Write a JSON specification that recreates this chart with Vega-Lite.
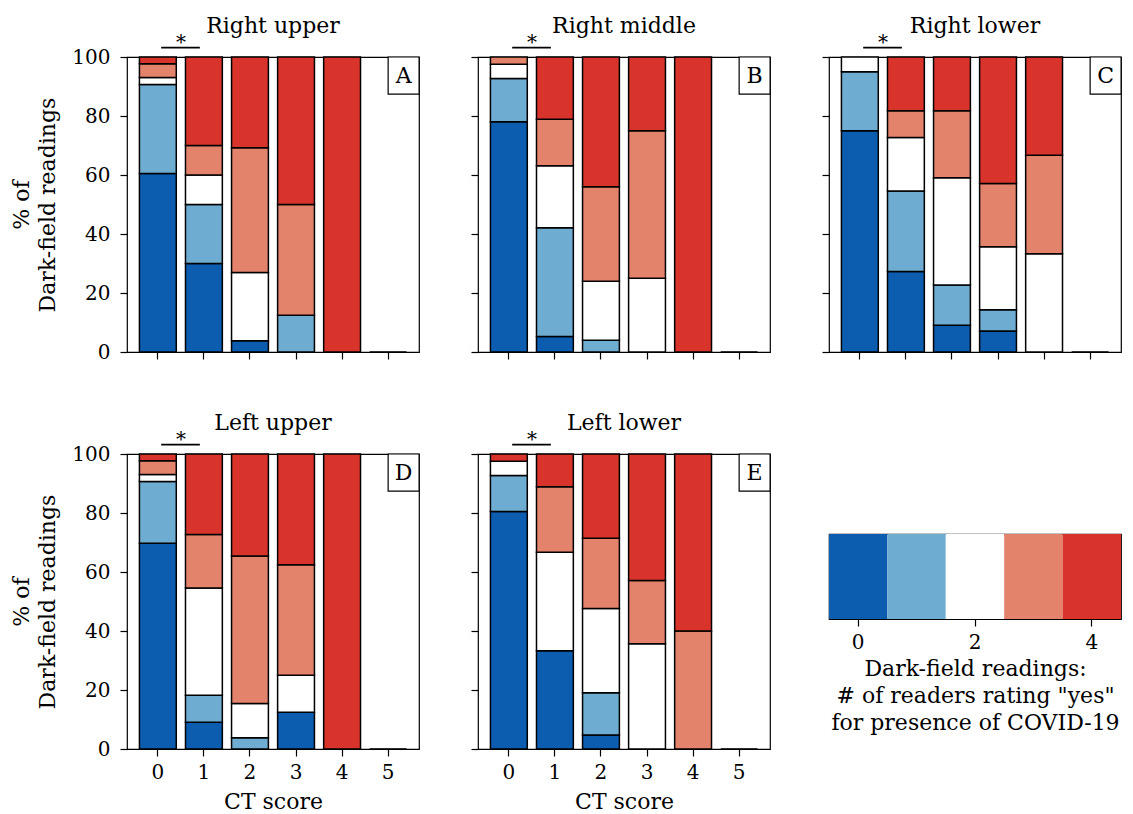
{
  "$schema": "https://vega.github.io/schema/vega-lite/v6.json",
  "background": "white",
  "padding": {"left": 10, "top": 14, "right": 5, "bottom": 5},
  "datasets": {
    "bars": [
      {"p":"A","ct":0,"lv":0,"v":60.47},{"p":"A","ct":0,"lv":1,"v":30.23},{"p":"A","ct":0,"lv":2,"v":2.33},{"p":"A","ct":0,"lv":3,"v":4.65},{"p":"A","ct":0,"lv":4,"v":2.33},
      {"p":"A","ct":1,"lv":0,"v":30},{"p":"A","ct":1,"lv":1,"v":20},{"p":"A","ct":1,"lv":2,"v":10},{"p":"A","ct":1,"lv":3,"v":10},{"p":"A","ct":1,"lv":4,"v":30},
      {"p":"A","ct":2,"lv":0,"v":3.85},{"p":"A","ct":2,"lv":2,"v":23.08},{"p":"A","ct":2,"lv":3,"v":42.31},{"p":"A","ct":2,"lv":4,"v":30.77},
      {"p":"A","ct":3,"lv":1,"v":12.5},{"p":"A","ct":3,"lv":3,"v":37.5},{"p":"A","ct":3,"lv":4,"v":50},
      {"p":"A","ct":4,"lv":4,"v":100},
      {"p":"A","ct":5,"lv":0,"v":0},
      {"p":"B","ct":0,"lv":0,"v":78.05},{"p":"B","ct":0,"lv":1,"v":14.63},{"p":"B","ct":0,"lv":2,"v":4.88},{"p":"B","ct":0,"lv":3,"v":2.44},
      {"p":"B","ct":1,"lv":0,"v":5.26},{"p":"B","ct":1,"lv":1,"v":36.84},{"p":"B","ct":1,"lv":2,"v":21.05},{"p":"B","ct":1,"lv":3,"v":15.79},{"p":"B","ct":1,"lv":4,"v":21.05},
      {"p":"B","ct":2,"lv":1,"v":4},{"p":"B","ct":2,"lv":2,"v":20},{"p":"B","ct":2,"lv":3,"v":32},{"p":"B","ct":2,"lv":4,"v":44},
      {"p":"B","ct":3,"lv":2,"v":25},{"p":"B","ct":3,"lv":3,"v":50},{"p":"B","ct":3,"lv":4,"v":25},
      {"p":"B","ct":4,"lv":4,"v":100},
      {"p":"B","ct":5,"lv":0,"v":0},
      {"p":"C","ct":0,"lv":0,"v":75},{"p":"C","ct":0,"lv":1,"v":20},{"p":"C","ct":0,"lv":2,"v":5},
      {"p":"C","ct":1,"lv":0,"v":27.27},{"p":"C","ct":1,"lv":1,"v":27.27},{"p":"C","ct":1,"lv":2,"v":18.18},{"p":"C","ct":1,"lv":3,"v":9.09},{"p":"C","ct":1,"lv":4,"v":18.18},
      {"p":"C","ct":2,"lv":0,"v":9.09},{"p":"C","ct":2,"lv":1,"v":13.64},{"p":"C","ct":2,"lv":2,"v":36.36},{"p":"C","ct":2,"lv":3,"v":22.73},{"p":"C","ct":2,"lv":4,"v":18.18},
      {"p":"C","ct":3,"lv":0,"v":7.14},{"p":"C","ct":3,"lv":1,"v":7.14},{"p":"C","ct":3,"lv":2,"v":21.43},{"p":"C","ct":3,"lv":3,"v":21.43},{"p":"C","ct":3,"lv":4,"v":42.86},
      {"p":"C","ct":4,"lv":2,"v":33.33},{"p":"C","ct":4,"lv":3,"v":33.33},{"p":"C","ct":4,"lv":4,"v":33.34},
      {"p":"C","ct":5,"lv":0,"v":0},
      {"p":"D","ct":0,"lv":0,"v":69.77},{"p":"D","ct":0,"lv":1,"v":20.93},{"p":"D","ct":0,"lv":2,"v":2.33},{"p":"D","ct":0,"lv":3,"v":4.65},{"p":"D","ct":0,"lv":4,"v":2.33},
      {"p":"D","ct":1,"lv":0,"v":9.09},{"p":"D","ct":1,"lv":1,"v":9.09},{"p":"D","ct":1,"lv":2,"v":36.36},{"p":"D","ct":1,"lv":3,"v":18.18},{"p":"D","ct":1,"lv":4,"v":27.27},
      {"p":"D","ct":2,"lv":1,"v":3.85},{"p":"D","ct":2,"lv":2,"v":11.54},{"p":"D","ct":2,"lv":3,"v":50},{"p":"D","ct":2,"lv":4,"v":34.62},
      {"p":"D","ct":3,"lv":0,"v":12.5},{"p":"D","ct":3,"lv":2,"v":12.5},{"p":"D","ct":3,"lv":3,"v":37.5},{"p":"D","ct":3,"lv":4,"v":37.5},
      {"p":"D","ct":4,"lv":4,"v":100},
      {"p":"D","ct":5,"lv":0,"v":0},
      {"p":"E","ct":0,"lv":0,"v":80.49},{"p":"E","ct":0,"lv":1,"v":12.2},{"p":"E","ct":0,"lv":2,"v":4.88},{"p":"E","ct":0,"lv":4,"v":2.44},
      {"p":"E","ct":1,"lv":0,"v":33.33},{"p":"E","ct":1,"lv":2,"v":33.33},{"p":"E","ct":1,"lv":3,"v":22.22},{"p":"E","ct":1,"lv":4,"v":11.11},
      {"p":"E","ct":2,"lv":0,"v":4.76},{"p":"E","ct":2,"lv":1,"v":14.29},{"p":"E","ct":2,"lv":2,"v":28.57},{"p":"E","ct":2,"lv":3,"v":23.81},{"p":"E","ct":2,"lv":4,"v":28.57},
      {"p":"E","ct":3,"lv":2,"v":35.71},{"p":"E","ct":3,"lv":3,"v":21.43},{"p":"E","ct":3,"lv":4,"v":42.86},
      {"p":"E","ct":4,"lv":3,"v":40},{"p":"E","ct":4,"lv":4,"v":60},
      {"p":"E","ct":5,"lv":0,"v":0}
    ],
    "legend": [{"lv":0},{"lv":1},{"lv":2},{"lv":3},{"lv":4}]
  },
  "columns": 3,
  "bounds": "flush",
  "spacing": {"row": 102, "column": 59},
  "concat": [
    {
      "width": 292, "height": 295,
      "layer": [
        {"data": {"name": "bars"}, "transform": [{"filter": "datum.p === 'A'"}],
         "mark": {"type": "bar", "stroke": "black", "strokeWidth": 1.5},
         "encoding": {
           "x": {"field": "ct", "type": "ordinal", "scale": {"type": "band", "paddingInner": 0.2, "paddingOuter": 0.27}, "axis": {"labels": false, "title": null}},
           "y": {"field": "v", "type": "quantitative", "stack": "zero", "scale": {"domain": [0, 100], "nice": false}, "axis": {"values": [0, 20, 40, 60, 80, 100], "title": ["% of", "Dark-field readings"], "titlePadding": 12, "labelPadding": 10, "titleLineHeight": 26}},
           "color": {"field": "lv", "type": "ordinal", "scale": {"domain": [0, 1, 2, 3, 4], "range": ["#0c5cb0", "#6eadd1", "#ffffff", "#e4836c", "#d9342b"]}, "legend": null},
           "order": {"field": "lv", "type": "quantitative", "sort": "ascending"}
         }},
        {"data": {"values": [{"t": "Right upper"}]}, "mark": {"type": "text", "fontSize": 22, "baseline": "alphabetic", "align": "center"},
         "encoding": {"text": {"field": "t"}, "x": {"datum": 2, "type": "ordinal", "bandPosition": 1.125}, "y": {"datum": 108.1, "type": "quantitative"}}},
        {"data": {"values": [{}]}, "mark": {"type": "rule", "strokeWidth": 1.8, "color": "black"},
         "encoding": {"x": {"datum": 0, "type": "ordinal", "bandPosition": 0.59}, "x2": {"datum": 1, "bandPosition": 0.39}, "y": {"datum": 103.2, "type": "quantitative"}}},
        {"data": {"values": [{}]}, "mark": {"type": "text", "text": "*", "fontSize": 20, "baseline": "alphabetic"},
         "encoding": {"x": {"datum": 0, "type": "ordinal", "bandPosition": 1.125}, "y": {"datum": 102.6, "type": "quantitative"}}},
        {"data": {"values": [{}]}, "mark": {"type": "rect", "fill": "white", "stroke": "black", "strokeWidth": 1.2},
         "encoding": {"x": {"datum": 5, "type": "ordinal", "bandPosition": 0.5}, "x2": {"datum": 5, "bandPosition": 1.34}, "y": {"datum": 100, "type": "quantitative"}, "y2": {"datum": 87.4}}},
        {"data": {"values": [{"t": "A"}]}, "mark": {"type": "text", "fontSize": 22, "baseline": "middle"},
         "encoding": {"text": {"field": "t"}, "x": {"datum": 5, "type": "ordinal", "bandPosition": 0.92}, "y": {"datum": 93.7, "type": "quantitative"}}}
      ]
    },
    {
      "width": 292, "height": 295,
      "layer": [
        {"data": {"name": "bars"}, "transform": [{"filter": "datum.p === 'B'"}],
         "mark": {"type": "bar", "stroke": "black", "strokeWidth": 1.5},
         "encoding": {
           "x": {"field": "ct", "type": "ordinal", "scale": {"type": "band", "paddingInner": 0.2, "paddingOuter": 0.27}, "axis": {"labels": false, "title": null}},
           "y": {"field": "v", "type": "quantitative", "stack": "zero", "scale": {"domain": [0, 100], "nice": false}, "axis": {"values": [0, 20, 40, 60, 80, 100], "labels": false, "title": null}},
           "color": {"field": "lv", "type": "ordinal", "scale": {"domain": [0, 1, 2, 3, 4], "range": ["#0c5cb0", "#6eadd1", "#ffffff", "#e4836c", "#d9342b"]}, "legend": null},
           "order": {"field": "lv", "type": "quantitative", "sort": "ascending"}
         }},
        {"data": {"values": [{"t": "Right middle"}]}, "mark": {"type": "text", "fontSize": 22, "baseline": "alphabetic", "align": "center"},
         "encoding": {"text": {"field": "t"}, "x": {"datum": 2, "type": "ordinal", "bandPosition": 1.125}, "y": {"datum": 108.1, "type": "quantitative"}}},
        {"data": {"values": [{}]}, "mark": {"type": "rule", "strokeWidth": 1.8, "color": "black"},
         "encoding": {"x": {"datum": 0, "type": "ordinal", "bandPosition": 0.59}, "x2": {"datum": 1, "bandPosition": 0.39}, "y": {"datum": 103.2, "type": "quantitative"}}},
        {"data": {"values": [{}]}, "mark": {"type": "text", "text": "*", "fontSize": 20, "baseline": "alphabetic"},
         "encoding": {"x": {"datum": 0, "type": "ordinal", "bandPosition": 1.125}, "y": {"datum": 102.6, "type": "quantitative"}}},
        {"data": {"values": [{}]}, "mark": {"type": "rect", "fill": "white", "stroke": "black", "strokeWidth": 1.2},
         "encoding": {"x": {"datum": 5, "type": "ordinal", "bandPosition": 0.5}, "x2": {"datum": 5, "bandPosition": 1.34}, "y": {"datum": 100, "type": "quantitative"}, "y2": {"datum": 87.4}}},
        {"data": {"values": [{"t": "B"}]}, "mark": {"type": "text", "fontSize": 22, "baseline": "middle"},
         "encoding": {"text": {"field": "t"}, "x": {"datum": 5, "type": "ordinal", "bandPosition": 0.92}, "y": {"datum": 93.7, "type": "quantitative"}}}
      ]
    },
    {
      "width": 292, "height": 295,
      "layer": [
        {"data": {"name": "bars"}, "transform": [{"filter": "datum.p === 'C'"}],
         "mark": {"type": "bar", "stroke": "black", "strokeWidth": 1.5},
         "encoding": {
           "x": {"field": "ct", "type": "ordinal", "scale": {"type": "band", "paddingInner": 0.2, "paddingOuter": 0.27}, "axis": {"labels": false, "title": null}},
           "y": {"field": "v", "type": "quantitative", "stack": "zero", "scale": {"domain": [0, 100], "nice": false}, "axis": {"values": [0, 20, 40, 60, 80, 100], "labels": false, "title": null}},
           "color": {"field": "lv", "type": "ordinal", "scale": {"domain": [0, 1, 2, 3, 4], "range": ["#0c5cb0", "#6eadd1", "#ffffff", "#e4836c", "#d9342b"]}, "legend": null},
           "order": {"field": "lv", "type": "quantitative", "sort": "ascending"}
         }},
        {"data": {"values": [{"t": "Right lower"}]}, "mark": {"type": "text", "fontSize": 22, "baseline": "alphabetic", "align": "center"},
         "encoding": {"text": {"field": "t"}, "x": {"datum": 2, "type": "ordinal", "bandPosition": 1.125}, "y": {"datum": 108.1, "type": "quantitative"}}},
        {"data": {"values": [{}]}, "mark": {"type": "rule", "strokeWidth": 1.8, "color": "black"},
         "encoding": {"x": {"datum": 0, "type": "ordinal", "bandPosition": 0.59}, "x2": {"datum": 1, "bandPosition": 0.39}, "y": {"datum": 103.2, "type": "quantitative"}}},
        {"data": {"values": [{}]}, "mark": {"type": "text", "text": "*", "fontSize": 20, "baseline": "alphabetic"},
         "encoding": {"x": {"datum": 0, "type": "ordinal", "bandPosition": 1.125}, "y": {"datum": 102.6, "type": "quantitative"}}},
        {"data": {"values": [{}]}, "mark": {"type": "rect", "fill": "white", "stroke": "black", "strokeWidth": 1.2},
         "encoding": {"x": {"datum": 5, "type": "ordinal", "bandPosition": 0.5}, "x2": {"datum": 5, "bandPosition": 1.34}, "y": {"datum": 100, "type": "quantitative"}, "y2": {"datum": 87.4}}},
        {"data": {"values": [{"t": "C"}]}, "mark": {"type": "text", "fontSize": 22, "baseline": "middle"},
         "encoding": {"text": {"field": "t"}, "x": {"datum": 5, "type": "ordinal", "bandPosition": 0.92}, "y": {"datum": 93.7, "type": "quantitative"}}}
      ]
    },
    {
      "width": 292, "height": 295,
      "layer": [
        {"data": {"name": "bars"}, "transform": [{"filter": "datum.p === 'D'"}],
         "mark": {"type": "bar", "stroke": "black", "strokeWidth": 1.5},
         "encoding": {
           "x": {"field": "ct", "type": "ordinal", "scale": {"type": "band", "paddingInner": 0.2, "paddingOuter": 0.27}, "axis": {"labelAngle": 0, "title": "CT score", "labelPadding": 6, "titlePadding": 9}},
           "y": {"field": "v", "type": "quantitative", "stack": "zero", "scale": {"domain": [0, 100], "nice": false}, "axis": {"values": [0, 20, 40, 60, 80, 100], "title": ["% of", "Dark-field readings"], "titlePadding": 12, "labelPadding": 10, "titleLineHeight": 26}},
           "color": {"field": "lv", "type": "ordinal", "scale": {"domain": [0, 1, 2, 3, 4], "range": ["#0c5cb0", "#6eadd1", "#ffffff", "#e4836c", "#d9342b"]}, "legend": null},
           "order": {"field": "lv", "type": "quantitative", "sort": "ascending"}
         }},
        {"data": {"values": [{"t": "Left upper"}]}, "mark": {"type": "text", "fontSize": 22, "baseline": "alphabetic", "align": "center"},
         "encoding": {"text": {"field": "t"}, "x": {"datum": 2, "type": "ordinal", "bandPosition": 1.125}, "y": {"datum": 108.1, "type": "quantitative"}}},
        {"data": {"values": [{}]}, "mark": {"type": "rule", "strokeWidth": 1.8, "color": "black"},
         "encoding": {"x": {"datum": 0, "type": "ordinal", "bandPosition": 0.59}, "x2": {"datum": 1, "bandPosition": 0.39}, "y": {"datum": 103.2, "type": "quantitative"}}},
        {"data": {"values": [{}]}, "mark": {"type": "text", "text": "*", "fontSize": 20, "baseline": "alphabetic"},
         "encoding": {"x": {"datum": 0, "type": "ordinal", "bandPosition": 1.125}, "y": {"datum": 102.6, "type": "quantitative"}}},
        {"data": {"values": [{}]}, "mark": {"type": "rect", "fill": "white", "stroke": "black", "strokeWidth": 1.2},
         "encoding": {"x": {"datum": 5, "type": "ordinal", "bandPosition": 0.5}, "x2": {"datum": 5, "bandPosition": 1.34}, "y": {"datum": 100, "type": "quantitative"}, "y2": {"datum": 87.4}}},
        {"data": {"values": [{"t": "D"}]}, "mark": {"type": "text", "fontSize": 22, "baseline": "middle"},
         "encoding": {"text": {"field": "t"}, "x": {"datum": 5, "type": "ordinal", "bandPosition": 0.92}, "y": {"datum": 93.7, "type": "quantitative"}}}
      ]
    },
    {
      "width": 292, "height": 295,
      "layer": [
        {"data": {"name": "bars"}, "transform": [{"filter": "datum.p === 'E'"}],
         "mark": {"type": "bar", "stroke": "black", "strokeWidth": 1.5},
         "encoding": {
           "x": {"field": "ct", "type": "ordinal", "scale": {"type": "band", "paddingInner": 0.2, "paddingOuter": 0.27}, "axis": {"labelAngle": 0, "title": "CT score", "labelPadding": 6, "titlePadding": 9}},
           "y": {"field": "v", "type": "quantitative", "stack": "zero", "scale": {"domain": [0, 100], "nice": false}, "axis": {"values": [0, 20, 40, 60, 80, 100], "labels": false, "title": null}},
           "color": {"field": "lv", "type": "ordinal", "scale": {"domain": [0, 1, 2, 3, 4], "range": ["#0c5cb0", "#6eadd1", "#ffffff", "#e4836c", "#d9342b"]}, "legend": null},
           "order": {"field": "lv", "type": "quantitative", "sort": "ascending"}
         }},
        {"data": {"values": [{"t": "Left lower"}]}, "mark": {"type": "text", "fontSize": 22, "baseline": "alphabetic", "align": "center"},
         "encoding": {"text": {"field": "t"}, "x": {"datum": 2, "type": "ordinal", "bandPosition": 1.125}, "y": {"datum": 108.1, "type": "quantitative"}}},
        {"data": {"values": [{}]}, "mark": {"type": "rule", "strokeWidth": 1.8, "color": "black"},
         "encoding": {"x": {"datum": 0, "type": "ordinal", "bandPosition": 0.59}, "x2": {"datum": 1, "bandPosition": 0.39}, "y": {"datum": 103.2, "type": "quantitative"}}},
        {"data": {"values": [{}]}, "mark": {"type": "text", "text": "*", "fontSize": 20, "baseline": "alphabetic"},
         "encoding": {"x": {"datum": 0, "type": "ordinal", "bandPosition": 1.125}, "y": {"datum": 102.6, "type": "quantitative"}}},
        {"data": {"values": [{}]}, "mark": {"type": "rect", "fill": "white", "stroke": "black", "strokeWidth": 1.2},
         "encoding": {"x": {"datum": 5, "type": "ordinal", "bandPosition": 0.5}, "x2": {"datum": 5, "bandPosition": 1.34}, "y": {"datum": 100, "type": "quantitative"}, "y2": {"datum": 87.4}}},
        {"data": {"values": [{"t": "E"}]}, "mark": {"type": "text", "fontSize": 22, "baseline": "middle"},
         "encoding": {"text": {"field": "t"}, "x": {"datum": 5, "type": "ordinal", "bandPosition": 0.92}, "y": {"datum": 93.7, "type": "quantitative"}}}
      ]
    },
    {
      "bounds": "flush",
      "spacing": 10,
      "vconcat": [
        {"width": 292, "height": 70, "view": {"stroke": null}, "data": {"values": [{}]}, "mark": {"type": "point", "opacity": 0}, "encoding": {}},
        {"width": 292, "height": 85,
         "data": {"name": "legend"},
         "mark": {"type": "bar"},
         "encoding": {
           "x": {"field": "lv", "type": "ordinal", "scale": {"type": "band", "paddingInner": 0, "paddingOuter": 0}, "axis": {"values": [0, 2, 4], "labelAngle": 0, "labelPadding": 6, "title": ["Dark-field readings:", "# of readers rating \"yes\"", "for presence of COVID-19"], "titlePadding": 6, "titleLineHeight": 27}},
           "color": {"field": "lv", "type": "ordinal", "scale": {"domain": [0, 1, 2, 3, 4], "range": ["#0c5cb0", "#6eadd1", "#ffffff", "#e4836c", "#d9342b"]}, "legend": null}
         }}
      ]
    }
  ],
  "config": {
    "font": "DejaVu Serif",
    "view": {"stroke": "black", "strokeWidth": 1.2},
    "axis": {"labelFontSize": 20, "titleFontSize": 22, "labelColor": "black", "titleColor": "black", "titleFontWeight": "normal", "tickColor": "black", "tickSize": 7, "tickWidth": 1.2, "domain": false, "grid": false, "labelFont": "DejaVu Serif", "titleFont": "DejaVu Serif"},
    "text": {"font": "DejaVu Serif", "color": "black"}
  }
}
